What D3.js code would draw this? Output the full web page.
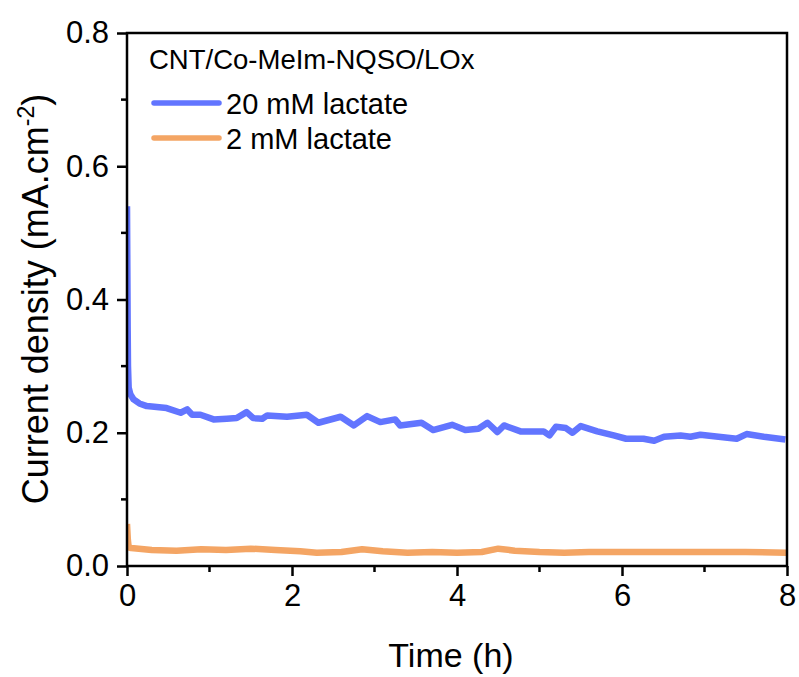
<!DOCTYPE html>
<html>
<head>
<meta charset="utf-8">
<script src="https://cdn.jsdelivr.net/npm/d3@7"></script>
<style>
  body { margin: 0; background: #fff; }
  svg { display: block; font-family: "Liberation Sans", Arial, sans-serif; }
</style>
</head>
<body>
<div id="chart"></div>
<script>

// Chart size and plot margins
const width = 799;
const height = 677;
const margin = {left: 127, right: 12, top: 33, bottom: 111};

// 20 mM lactate: time (h) and current density (mA.cm-2)
const time20 = [0, 0.004, 0.008, 0.012, 0.02, 0.04, 0.08, 0.15, 0.24, 0.48, 0.65, 0.73, 0.79, 0.89,
  1.05, 1.21, 1.33, 1.45, 1.53, 1.64, 1.70, 1.94, 2.18, 2.32, 2.59, 2.75, 2.91, 3.07, 3.25, 3.31,
  3.57, 3.71, 3.94, 4.10, 4.26, 4.37, 4.49, 4.57, 4.77, 5.05, 5.12, 5.20, 5.32, 5.40, 5.50, 5.70,
  5.90, 6.05, 6.26, 6.39, 6.51, 6.71, 6.83, 6.95, 7.39, 7.51, 7.72, 7.98];
const cur20 = [0.540, 0.45, 0.36, 0.30, 0.268, 0.258, 0.250, 0.244, 0.240, 0.237, 0.230, 0.235, 0.227, 0.227,
  0.220, 0.221, 0.222, 0.231, 0.222, 0.221, 0.226, 0.224, 0.227, 0.215, 0.224, 0.211, 0.225, 0.216, 0.220, 0.211,
  0.215, 0.204, 0.212, 0.204, 0.206, 0.215, 0.201, 0.211, 0.202, 0.202, 0.196, 0.209, 0.207, 0.200, 0.210, 0.202,
  0.196, 0.191, 0.191, 0.188, 0.194, 0.196, 0.194, 0.197, 0.191, 0.198, 0.194, 0.190];

// 2 mM lactate
const time2 = [0, 0.01, 0.02, 0.05, 0.3, 0.6, 0.9, 1.2, 1.5, 1.8, 2.1, 2.3, 2.6, 2.85, 3.1, 3.4,
  3.7, 4.0, 4.3, 4.5, 4.7, 5.0, 5.3, 5.6, 6.0, 6.5, 7.0, 7.5, 8.0];
const cur2 = [0.063, 0.040, 0.028, 0.027, 0.024, 0.023, 0.025, 0.024, 0.026, 0.024, 0.022, 0.020, 0.021, 0.025, 0.022, 0.020,
  0.021, 0.020, 0.021, 0.026, 0.023, 0.021, 0.020, 0.021, 0.021, 0.021, 0.021, 0.021, 0.020];

// Tick values and labels
const xTicks = [0, 2, 4, 6, 8];
const xMinor = [1, 3, 5, 7];
const yTicks = [0, 0.2, 0.4, 0.6, 0.8];
const yMinor = [0.1, 0.3, 0.5, 0.7];
const legendTitle = "CNT/Co-MeIm-NQSO/LOx";
const seriesNames = ["20 mM lactate", "2 mM lactate"];
const colors = ["#6275ff", "#f4a564"];

const svg = d3.select("#chart")
  .append("svg")
  .attr("width", width)
  .attr("height", height);

// Scales
const xScale = d3.scaleLinear()
  .domain([0, 8])
  .range([margin.left, width - margin.right]);

const yScale = d3.scaleLinear()
  .domain([0, 0.8])
  .range([height - margin.bottom, margin.top]);

// Series lines
const series = [
  {name: seriesNames[0], t: time20, v: cur20, color: colors[0]},
  {name: seriesNames[1], t: time2, v: cur2, color: colors[1]}
];

const line = d3.line()
  .x(d => xScale(d[0]))
  .y(d => yScale(d[1]));

svg.append("defs").append("clipPath")
  .attr("id", "clip")
  .append("rect")
  .attr("x", margin.left)
  .attr("y", margin.top)
  .attr("width", width - margin.left - margin.right)
  .attr("height", height - margin.top - margin.bottom);

svg.selectAll(".series")
  .data(series)
  .enter()
  .append("path")
    .attr("class", "series")
    .attr("clip-path", "url(#clip)")
    .attr("d", d => line(d3.zip(d.t, d.v)))
    .attr("fill", "none")
    .attr("stroke", d => d.color)
    .attr("stroke-width", 6.5)
    .attr("stroke-linejoin", "round");

// Axes
const axisW = 2.5;

const xAxis = svg.append("g")
  .attr("transform", `translate(0,${height - margin.bottom})`)
  .call(d3.axisBottom(xScale).tickValues(xTicks).tickSize(10).tickPadding(8).tickFormat(d3.format("d")));
xAxis.append("g").selectAll("line")
  .data(xMinor).enter().append("line")
  .attr("x1", d => xScale(d)).attr("x2", d => xScale(d))
  .attr("y1", 0).attr("y2", 6)
  .attr("stroke", "#000");

const yAxis = svg.append("g")
  .attr("transform", `translate(${margin.left},0)`)
  .call(d3.axisLeft(yScale).tickValues(yTicks).tickSize(10).tickPadding(8).tickFormat(d3.format(".1f")));
yAxis.append("g").selectAll("line")
  .data(yMinor).enter().append("line")
  .attr("y1", d => yScale(d)).attr("y2", d => yScale(d))
  .attr("x1", 0).attr("x2", -6)
  .attr("stroke", "#000");

[xAxis, yAxis].forEach(g => {
  g.select(".domain").remove();
  g.selectAll("line").attr("stroke", "#000").attr("stroke-width", axisW);
  g.selectAll("text")
    .attr("font-size", "31px")
    .attr("fill", "#000")
    .attr("font-family", "'Liberation Sans', Arial, sans-serif");
});

// Frame around the plot
svg.append("rect")
  .attr("x", margin.left)
  .attr("y", margin.top)
  .attr("width", width - margin.left - margin.right)
  .attr("height", height - margin.top - margin.bottom)
  .attr("fill", "none")
  .attr("stroke", "#000")
  .attr("stroke-width", axisW);

// Axis titles
svg.append("text")
  .attr("x", 451)
  .attr("y", 667)
  .attr("text-anchor", "middle")
  .attr("font-size", "34px")
  .text("Time (h)");

const yTitle = svg.append("text")
  .attr("transform", `translate(48,299) rotate(-90)`)
  .attr("text-anchor", "middle")
  .attr("font-size", "36px");
yTitle.append("tspan").text("Current density (mA.cm");
yTitle.append("tspan").attr("font-size", "23px").attr("dy", -14).text("-2");
yTitle.append("tspan").attr("dy", 14).text(")");

// Legend
svg.append("text")
  .attr("x", 149)
  .attr("y", 69)
  .attr("font-size", "27.5px")
  .text(legendTitle);

const legend = svg.selectAll(".legend")
  .data(series)
  .enter()
  .append("g")
    .attr("class", "legend")
    .attr("transform", (d, i) => `translate(0,${103 + i * 35})`);

legend.append("line")
  .attr("x1", 154).attr("x2", 219)
  .attr("y1", 0).attr("y2", 0)
  .attr("stroke", d => d.color)
  .attr("stroke-width", 5.5)
  .attr("stroke-linecap", "round");

legend.append("text")
  .attr("x", 226)
  .attr("y", 11)
  .attr("font-size", "29px")
  .text(d => d.name);

</script>
</body>
</html>
